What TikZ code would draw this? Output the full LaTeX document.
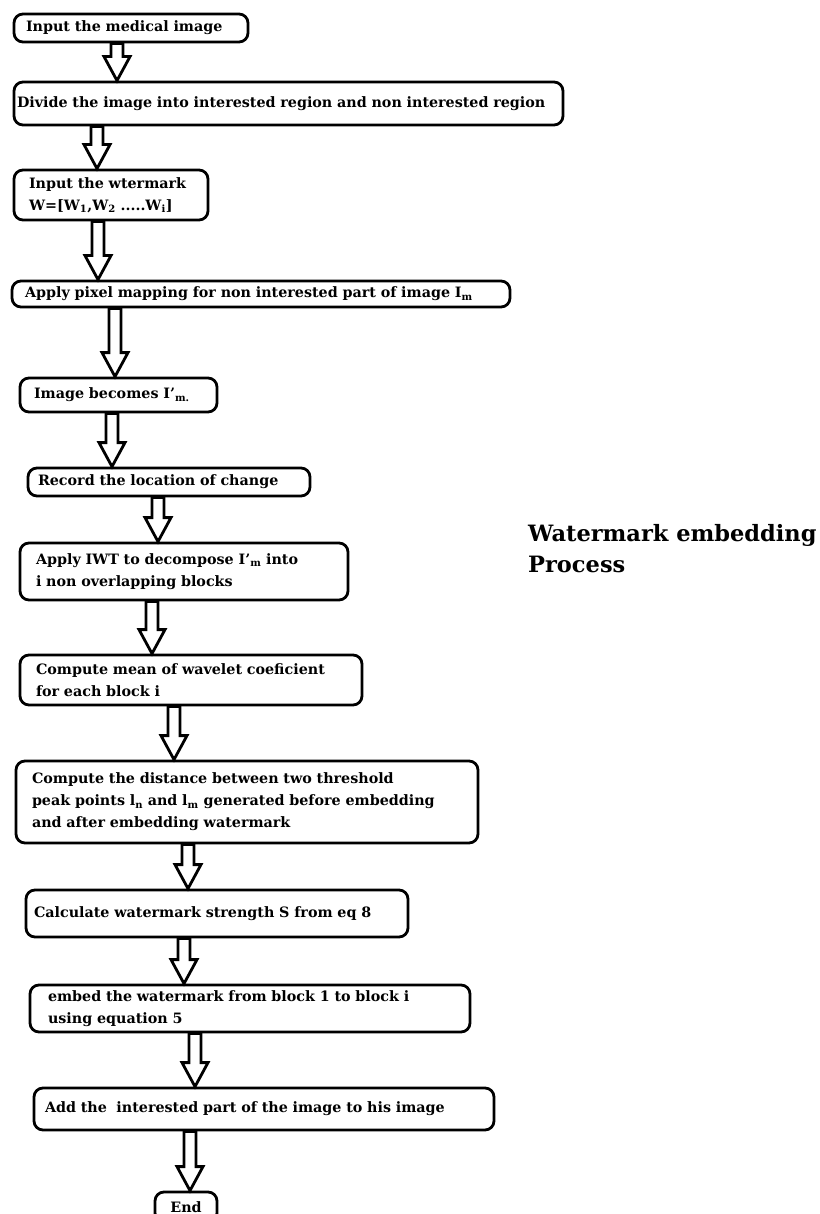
\documentclass[tikz,border=0pt]{standalone}
\usepackage{fontspec}
\setmainfont{DejaVu Serif}
\usetikzlibrary{calc}

\newcommand{\boxfont}{\fontsize{14.3}{22}\selectfont\bfseries}
% hollow block arrow: x position, from node, to node
\newcommand{\flowarrow}[3]{%
  \draw[blockarrow] let \p1=(#1,0), \p2=(#2.south), \p3=(#3.north) in
    (\x1-6pt,\y2) -- (\x1+6pt,\y2) -- (\x1+6pt,\y3+24pt) -- (\x1+13pt,\y3+24pt)
    -- (\x1,\y3) -- (\x1-13pt,\y3+24pt) -- (\x1-6pt,\y3+24pt) -- cycle;}

\begin{document}
\begin{tikzpicture}[x=1pt,y=-1pt,
    stepbox/.style={draw, line width=2.8pt, rounded corners=9pt, align=left, inner xsep=12pt, inner ysep=2pt, font=\boxfont},
    blockarrow/.style={draw, fill=white, line width=2.8pt, line join=miter},
    titletext/.style={anchor=north west, align=left, inner sep=0pt, font=\fontsize{22.5}{31}\selectfont\bfseries}]
  \useasboundingbox (0,0) rectangle (819,1214);

  \node[stepbox, text width=210pt, minimum height=28pt] (input) at (131,28) {Input the medical image};
  \node[stepbox, inner xsep=3pt, text width=543pt, minimum height=43pt] (divide) at (288.5,103.5) {Divide the image into interested region and non interested region};
  \node[stepbox, inner xsep=15pt, text width=164pt, minimum height=50pt] (mark) at (111,195) {Input the wtermark\\W=[W\textsubscript{1},W\textsubscript{2} .....W\textsubscript{i}]};
  \node[stepbox, inner xsep=13pt, text width=472pt, minimum height=26pt] (pixel) at (261,294) {Apply pixel mapping for non interested part of image I\textsubscript{m}};
  \node[stepbox, inner xsep=14pt, text width=169pt, minimum height=34pt] (becomes) at (118.5,395) {Image becomes I'\textsubscript{m.}};
  \node[stepbox, inner xsep=10pt, text width=262pt, minimum height=28pt] (record) at (169,482) {Record the location of change};
  \node[stepbox, inner xsep=16pt, text width=296pt, minimum height=57pt] (iwt) at (184,571.5) {Apply IWT to decompose I'\textsubscript{m} into\\i non overlapping blocks};
  \node[stepbox, inner xsep=16pt, text width=310pt, minimum height=50pt] (mean) at (191,680) {Compute mean of wavelet coeficient\\for each block i};
  \node[stepbox, inner xsep=16pt, text width=430pt, minimum height=82pt] (dist) at (247,802) {Compute the distance between two threshold\\peak points l\textsubscript{n} and l\textsubscript{m} generated before embedding\\and after embedding watermark};
  \node[stepbox, inner xsep=8pt, text width=366pt, minimum height=47pt] (strength) at (217,913.5) {Calculate watermark strength S from eq 8};
  \node[stepbox, inner xsep=18pt, text width=404pt, minimum height=47pt] (embed) at (250,1008.5) {embed the watermark from block 1 to block i\\using equation 5};
  \node[stepbox, inner xsep=11pt, text width=438pt, minimum height=42pt] (add) at (264,1109) {Add the\ \ interested part of the image to his image};
  \node[stepbox, align=center, inner xsep=8pt, text width=46pt, minimum height=30pt] (end) at (186,1207) {End};

  \node[titletext] (title) at (528,524) {Watermark embedding\\Process};

  \flowarrow{117}{input}{divide}
  \flowarrow{97}{divide}{mark}
  \flowarrow{98}{mark}{pixel}
  \flowarrow{115}{pixel}{becomes}
  \flowarrow{112}{becomes}{record}
  \flowarrow{158}{record}{iwt}
  \flowarrow{152}{iwt}{mean}
  \flowarrow{174}{mean}{dist}
  \flowarrow{188}{dist}{strength}
  \flowarrow{184}{strength}{embed}
  \flowarrow{195}{embed}{add}
  \flowarrow{190}{add}{end}
\end{tikzpicture}
\end{document}
